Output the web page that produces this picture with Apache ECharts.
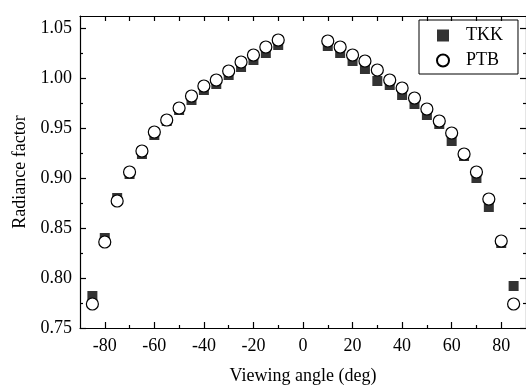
<!DOCTYPE html>
<html>
<head>
<meta charset="utf-8">
<script src="https://cdn.jsdelivr.net/npm/echarts@6/dist/echarts.min.js"></script>
<style>
  html, body { margin: 0; padding: 0; background: #fff; }
  #chart { width: 526px; height: 385px; }
</style>
</head>
<body>
<div id="chart"></div>
<script>
const angles = [-85, -80, -75, -70, -65, -60, -55, -50, -45, -40, -35, -30, -25, -20, -15, -10,
  10, 15, 20, 25, 30, 35, 40, 45, 50, 55, 60, 65, 70, 75, 80, 85];
const tkk = [0.782, 0.840, 0.880, 0.904, 0.924, 0.943, 0.957, 0.968, 0.978, 0.988, 0.994, 1.003, 1.011, 1.018, 1.025, 1.033,
  1.032, 1.025, 1.017, 1.009, 0.997, 0.993, 0.983, 0.974, 0.963, 0.954, 0.937, 0.922, 0.900, 0.871, 0.835, 0.792];
const ptb = [0.774, 0.836, 0.877, 0.906, 0.927, 0.946, 0.958, 0.970, 0.982, 0.992, 0.998, 1.007, 1.016, 1.023, 1.031, 1.038,
  1.037, 1.031, 1.023, 1.017, 1.008, 0.998, 0.990, 0.980, 0.969, 0.957, 0.945, 0.924, 0.906, 0.879, 0.837, 0.774];

const xMajor = [-80, -60, -40, -20, 0, 20, 40, 60, 80];
const xMinor = [-70, -50, -30, -10, 10, 30, 50, 70];
const yMajor = [0.75, 0.80, 0.85, 0.90, 0.95, 1.00, 1.05];
const yMinor = [0.775, 0.825, 0.875, 0.925, 0.975, 1.025];

const font = "'Liberation Serif', 'Times New Roman', serif";
const black = "#000";

// one axis per tick set; line only drawn on the main ones
function axis(pos, min, max, ticks, len, lineShown, extra) {
  return Object.assign({
    type: "value", position: pos, min: min, max: max, gridIndex: 0,
    axisLine: { show: lineShown, onZero: false, lineStyle: { color: black, width: 1.2 } },
    axisTick: { show: true, inside: true, length: len, customValues: ticks, lineStyle: { color: black, width: 1.2 } },
    axisLabel: { show: false },
    splitLine: { show: false },
  }, extra);
}
const xAx = (pos, ticks, len, lineShown, extra) => axis(pos, -90, 90, ticks, len, lineShown, extra);
const yAx = (pos, ticks, len, lineShown, extra) => axis(pos, 0.75, 1.062, ticks, len, lineShown, extra);

const chart = echarts.init(document.getElementById("chart"), null, { renderer: "canvas" });
chart.setOption({
  animation: false,
  backgroundColor: "#fff",
  grid: { left: 80, right: 0, top: 16, bottom: 57, outerBoundsMode: "none", containLabel: false },
  legend: {
    orient: "vertical",
    left: 419, top: 20,
    padding: [6, 15, 4, 17],
    itemGap: 6,
    itemWidth: 12, itemHeight: 12,
    borderColor: black, borderWidth: 1,
    textStyle: { fontFamily: font, fontSize: 18, lineHeight: 19, color: black, padding: [0, 0, 0, 12] },
    data: ["TKK", "PTB"],
  },
  xAxis: [
    xAx("bottom", xMajor, 6, true, {
      axisLabel: { show: true, customValues: xMajor, margin: 9, fontFamily: font, fontSize: 18, color: black },
      name: "Viewing angle (deg)", nameLocation: "middle", nameGap: 39,
      nameTextStyle: { fontFamily: font, fontSize: 18, color: black },
    }),
    xAx("bottom", xMinor, 3, false, {}),
    xAx("top", xMajor.concat(xMinor), 5, true, {}),
  ],
  yAxis: [
    yAx("left", yMajor, 6, true, {
      axisLabel: { show: true, customValues: yMajor, margin: 8, fontFamily: font, fontSize: 18, color: black,
        formatter: (v) => v.toFixed(2) },
      name: "Radiance factor", nameLocation: "middle", nameGap: 51,
      nameTextStyle: { fontFamily: font, fontSize: 18, color: black },
    }),
    yAx("left", yMinor, 3, false, {}),
    yAx("right", yMajor, 6, true, {}),
    yAx("right", yMinor, 3, false, {}),
  ],
  series: [
    {
      name: "TKK", type: "scatter", xAxisIndex: 0, yAxisIndex: 0,
      symbol: "rect", symbolSize: 10,
      itemStyle: { color: black },
      data: angles.map((a, i) => [a, tkk[i]]),
    },
    {
      name: "PTB", type: "scatter", xAxisIndex: 0, yAxisIndex: 0,
      symbol: "circle", symbolSize: 12,
      itemStyle: { color: "#fff", borderColor: black, borderWidth: 1.2, opacity: 1 },
      data: angles.map((a, i) => [a, ptb[i]]),
    },
  ],
});
</script>
</body>
</html>
